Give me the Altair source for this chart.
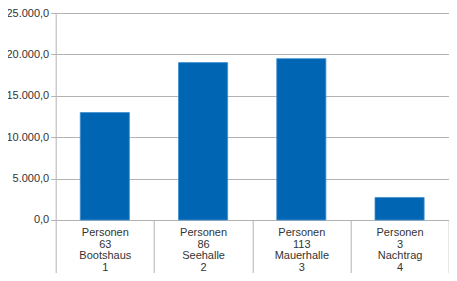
import altair as alt
import pandas as pd

categories = ["Personen|63|Bootshaus|1", "Personen|86|Seehalle|2",
              "Personen|113|Mauerhalle|3", "Personen|3|Nachtrag|4"]
values = [12980, 19010, 19490, 2720]
y_ticks = [0, 5000, 10000, 15000, 20000, 25000]

df = pd.DataFrame({"cat": categories, "val": values})

FONT = "Liberation Sans"
GRID = "#b3b3b3"
TEXT = "#333333"

chart = alt.Chart(df).mark_bar(color="#0066b3", stroke="#3f8fd0", strokeWidth=0.8,
                               width=alt.RelativeBandSize(0.5)).encode(
    x=alt.X("cat:N", sort=categories, title=None,
            scale=alt.Scale(paddingInner=0, paddingOuter=0),
            axis=alt.Axis(labelAngle=0, tickBand="extent", tickSize=53,
                          tickColor=GRID, tickWidth=1, domain=False,
                          labelExpr="split(datum.label, '|')",
                          labelPadding=-46, labelLineHeight=11.4,
                          labelBaseline="top", labelFont=FONT,
                          labelFontSize=11, labelColor=TEXT, grid=False)),
    y=alt.Y("val:Q", title=None,
            scale=alt.Scale(domain=[0, 25000], nice=False),
            axis=alt.Axis(values=y_ticks, grid=True, gridColor=GRID,
                          domainColor=GRID, tickColor=GRID, tickSize=5,
                          labelPadding=2, labelFont=FONT, labelFontSize=11,
                          labelColor=TEXT,
                          labelExpr="replace(replace(replace(format(datum.value, ',.1f'), ',', 'X'), '.', ','), 'X', '.')")),
).properties(
    width=393, height=207,
    autosize=alt.AutoSizeParams(type="none"),
    padding={"left": 47.7, "top": 5, "right": 0, "bottom": 53},
).configure_view(stroke=None)

chart.save("out.html", embed_options={"renderer": "svg", "actions": False})
